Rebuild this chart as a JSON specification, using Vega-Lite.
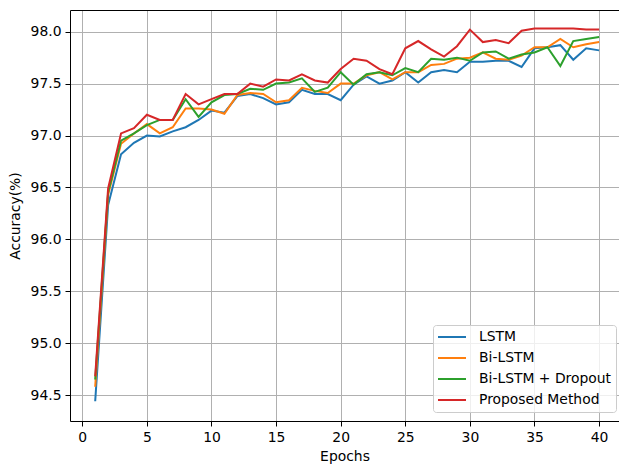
{
  "$schema": "https://vega.github.io/schema/vega-lite/v6.json",
  "autosize": {"type": "none"},
  "width": 549,
  "height": 411,
  "padding": {"left": 70, "top": 10, "right": 0, "bottom": 44},
  "background": "white",
  "config": {
    "font": "DejaVu Sans",
    "view": {"stroke": null},
    "axis": {
      "domainColor": "black",
      "domainWidth": 1,
      "tickColor": "black",
      "tickWidth": 1,
      "tickSize": 5,
      "labelPadding": 4,
      "labelFontSize": 13.9,
      "labelColor": "black",
      "titleFontSize": 13.9,
      "titleFontWeight": "normal",
      "titleColor": "black",
      "gridColor": "#b0b0b0",
      "gridWidth": 1,
      "labelFlush": false,
      "labelOverlap": false
    }
  },
  "data": {"values": [
    {"e":1,"m":"LSTM","a":94.44},{"e":2,"m":"LSTM","a":96.33},{"e":3,"m":"LSTM","a":96.82},{"e":4,"m":"LSTM","a":96.93},{"e":5,"m":"LSTM","a":97.0},{"e":6,"m":"LSTM","a":96.99},{"e":7,"m":"LSTM","a":97.04},{"e":8,"m":"LSTM","a":97.08},{"e":9,"m":"LSTM","a":97.15},{"e":10,"m":"LSTM","a":97.24},
    {"e":11,"m":"LSTM","a":97.22},{"e":12,"m":"LSTM","a":97.38},{"e":13,"m":"LSTM","a":97.4},{"e":14,"m":"LSTM","a":97.36},{"e":15,"m":"LSTM","a":97.3},{"e":16,"m":"LSTM","a":97.32},{"e":17,"m":"LSTM","a":97.44},{"e":18,"m":"LSTM","a":97.4},{"e":19,"m":"LSTM","a":97.4},{"e":20,"m":"LSTM","a":97.34},
    {"e":21,"m":"LSTM","a":97.49},{"e":22,"m":"LSTM","a":97.57},{"e":23,"m":"LSTM","a":97.5},{"e":24,"m":"LSTM","a":97.53},{"e":25,"m":"LSTM","a":97.61},{"e":26,"m":"LSTM","a":97.51},{"e":27,"m":"LSTM","a":97.61},{"e":28,"m":"LSTM","a":97.63},{"e":29,"m":"LSTM","a":97.61},{"e":30,"m":"LSTM","a":97.71},
    {"e":31,"m":"LSTM","a":97.71},{"e":32,"m":"LSTM","a":97.72},{"e":33,"m":"LSTM","a":97.72},{"e":34,"m":"LSTM","a":97.66},{"e":35,"m":"LSTM","a":97.84},{"e":36,"m":"LSTM","a":97.85},{"e":37,"m":"LSTM","a":97.87},{"e":38,"m":"LSTM","a":97.73},{"e":39,"m":"LSTM","a":97.84},{"e":40,"m":"LSTM","a":97.82},
    {"e":1,"m":"Bi-LSTM","a":94.58},{"e":2,"m":"Bi-LSTM","a":96.43},{"e":3,"m":"Bi-LSTM","a":96.92},{"e":4,"m":"Bi-LSTM","a":97.02},{"e":5,"m":"Bi-LSTM","a":97.11},{"e":6,"m":"Bi-LSTM","a":97.02},{"e":7,"m":"Bi-LSTM","a":97.08},{"e":8,"m":"Bi-LSTM","a":97.26},{"e":9,"m":"Bi-LSTM","a":97.26},{"e":10,"m":"Bi-LSTM","a":97.25},
    {"e":11,"m":"Bi-LSTM","a":97.21},{"e":12,"m":"Bi-LSTM","a":97.39},{"e":13,"m":"Bi-LSTM","a":97.41},{"e":14,"m":"Bi-LSTM","a":97.4},{"e":15,"m":"Bi-LSTM","a":97.32},{"e":16,"m":"Bi-LSTM","a":97.34},{"e":17,"m":"Bi-LSTM","a":97.46},{"e":18,"m":"Bi-LSTM","a":97.43},{"e":19,"m":"Bi-LSTM","a":97.41},{"e":20,"m":"Bi-LSTM","a":97.5},
    {"e":21,"m":"Bi-LSTM","a":97.5},{"e":22,"m":"Bi-LSTM","a":97.58},{"e":23,"m":"Bi-LSTM","a":97.61},{"e":24,"m":"Bi-LSTM","a":97.54},{"e":25,"m":"Bi-LSTM","a":97.61},{"e":26,"m":"Bi-LSTM","a":97.61},{"e":27,"m":"Bi-LSTM","a":97.68},{"e":28,"m":"Bi-LSTM","a":97.69},{"e":29,"m":"Bi-LSTM","a":97.74},{"e":30,"m":"Bi-LSTM","a":97.75},
    {"e":31,"m":"Bi-LSTM","a":97.8},{"e":32,"m":"Bi-LSTM","a":97.74},{"e":33,"m":"Bi-LSTM","a":97.73},{"e":34,"m":"Bi-LSTM","a":97.77},{"e":35,"m":"Bi-LSTM","a":97.85},{"e":36,"m":"Bi-LSTM","a":97.85},{"e":37,"m":"Bi-LSTM","a":97.93},{"e":38,"m":"Bi-LSTM","a":97.85},{"e":39,"m":"Bi-LSTM","a":97.88},{"e":40,"m":"Bi-LSTM","a":97.9},
    {"e":1,"m":"Bi-LSTM + Dropout","a":94.65},{"e":2,"m":"Bi-LSTM + Dropout","a":96.45},{"e":3,"m":"Bi-LSTM + Dropout","a":96.95},{"e":4,"m":"Bi-LSTM + Dropout","a":97.02},{"e":5,"m":"Bi-LSTM + Dropout","a":97.1},{"e":6,"m":"Bi-LSTM + Dropout","a":97.15},{"e":7,"m":"Bi-LSTM + Dropout","a":97.15},{"e":8,"m":"Bi-LSTM + Dropout","a":97.35},{"e":9,"m":"Bi-LSTM + Dropout","a":97.18},{"e":10,"m":"Bi-LSTM + Dropout","a":97.32},
    {"e":11,"m":"Bi-LSTM + Dropout","a":97.39},{"e":12,"m":"Bi-LSTM + Dropout","a":97.4},{"e":13,"m":"Bi-LSTM + Dropout","a":97.45},{"e":14,"m":"Bi-LSTM + Dropout","a":97.44},{"e":15,"m":"Bi-LSTM + Dropout","a":97.5},{"e":16,"m":"Bi-LSTM + Dropout","a":97.51},{"e":17,"m":"Bi-LSTM + Dropout","a":97.55},{"e":18,"m":"Bi-LSTM + Dropout","a":97.42},{"e":19,"m":"Bi-LSTM + Dropout","a":97.46},{"e":20,"m":"Bi-LSTM + Dropout","a":97.61},
    {"e":21,"m":"Bi-LSTM + Dropout","a":97.49},{"e":22,"m":"Bi-LSTM + Dropout","a":97.59},{"e":23,"m":"Bi-LSTM + Dropout","a":97.61},{"e":24,"m":"Bi-LSTM + Dropout","a":97.58},{"e":25,"m":"Bi-LSTM + Dropout","a":97.65},{"e":26,"m":"Bi-LSTM + Dropout","a":97.61},{"e":27,"m":"Bi-LSTM + Dropout","a":97.74},{"e":28,"m":"Bi-LSTM + Dropout","a":97.73},{"e":29,"m":"Bi-LSTM + Dropout","a":97.75},{"e":30,"m":"Bi-LSTM + Dropout","a":97.72},
    {"e":31,"m":"Bi-LSTM + Dropout","a":97.8},{"e":32,"m":"Bi-LSTM + Dropout","a":97.81},{"e":33,"m":"Bi-LSTM + Dropout","a":97.74},{"e":34,"m":"Bi-LSTM + Dropout","a":97.78},{"e":35,"m":"Bi-LSTM + Dropout","a":97.8},{"e":36,"m":"Bi-LSTM + Dropout","a":97.85},{"e":37,"m":"Bi-LSTM + Dropout","a":97.67},{"e":38,"m":"Bi-LSTM + Dropout","a":97.91},{"e":39,"m":"Bi-LSTM + Dropout","a":97.93},{"e":40,"m":"Bi-LSTM + Dropout","a":97.95},
    {"e":1,"m":"Proposed Method","a":94.68},{"e":2,"m":"Proposed Method","a":96.49},{"e":3,"m":"Proposed Method","a":97.02},{"e":4,"m":"Proposed Method","a":97.07},{"e":5,"m":"Proposed Method","a":97.2},{"e":6,"m":"Proposed Method","a":97.15},{"e":7,"m":"Proposed Method","a":97.15},{"e":8,"m":"Proposed Method","a":97.4},{"e":9,"m":"Proposed Method","a":97.3},{"e":10,"m":"Proposed Method","a":97.35},
    {"e":11,"m":"Proposed Method","a":97.4},{"e":12,"m":"Proposed Method","a":97.4},{"e":13,"m":"Proposed Method","a":97.5},{"e":14,"m":"Proposed Method","a":97.47},{"e":15,"m":"Proposed Method","a":97.54},{"e":16,"m":"Proposed Method","a":97.53},{"e":17,"m":"Proposed Method","a":97.59},{"e":18,"m":"Proposed Method","a":97.53},{"e":19,"m":"Proposed Method","a":97.51},{"e":20,"m":"Proposed Method","a":97.64},
    {"e":21,"m":"Proposed Method","a":97.74},{"e":22,"m":"Proposed Method","a":97.72},{"e":23,"m":"Proposed Method","a":97.64},{"e":24,"m":"Proposed Method","a":97.59},{"e":25,"m":"Proposed Method","a":97.84},{"e":26,"m":"Proposed Method","a":97.91},{"e":27,"m":"Proposed Method","a":97.83},{"e":28,"m":"Proposed Method","a":97.76},{"e":29,"m":"Proposed Method","a":97.86},{"e":30,"m":"Proposed Method","a":98.02},
    {"e":31,"m":"Proposed Method","a":97.9},{"e":32,"m":"Proposed Method","a":97.92},{"e":33,"m":"Proposed Method","a":97.89},{"e":34,"m":"Proposed Method","a":98.01},{"e":35,"m":"Proposed Method","a":98.03},{"e":36,"m":"Proposed Method","a":98.03},{"e":37,"m":"Proposed Method","a":98.03},{"e":38,"m":"Proposed Method","a":98.03},{"e":39,"m":"Proposed Method","a":98.02},{"e":40,"m":"Proposed Method","a":98.02}
  ]},
  "layer": [
    {
      "mark": {"type": "line", "strokeWidth": 2},
      "encoding": {
        "x": {
          "field": "e", "type": "quantitative",
          "scale": {"domain": [-0.95, 41.54], "nice": false, "zero": false},
          "axis": {"orient": "bottom", "title": "Epochs", "values": [0,5,10,15,20,25,30,35,40], "format": "d", "grid": true, "titlePadding": 6}
        },
        "y": {
          "field": "a", "type": "quantitative",
          "scale": {"domain": [94.25, 98.209], "nice": false, "zero": false},
          "axis": {"title": "Accuracy(%)", "values": [94.5,95.0,95.5,96.0,96.5,97.0,97.5,98.0], "format": ".1f", "grid": true, "titlePadding": 8}
        },
        "color": {
          "field": "m", "type": "nominal",
          "scale": {"domain": ["LSTM","Bi-LSTM","Bi-LSTM + Dropout","Proposed Method"], "range": ["#1f77b4","#ff7f0e","#2ca02c","#d62728"]},
          "legend": {
            "orient": "none", "legendX": 363, "legendY": 315, "title": null,
            "symbolType": "stroke", "symbolSize": 784, "symbolStrokeWidth": 2,
            "clipHeight": 16, "rowPadding": 5, "padding": 4, "labelOffset": 12,
            "labelFontSize": 13.9, "labelColor": "black",
            "fillColor": "rgba(255,255,255,0.8)", "strokeColor": "#cccccc", "cornerRadius": 3
          }
        }
      }
    },
    {
      "mark": {"type": "line", "opacity": 0},
      "encoding": {
        "x": {
          "field": "e", "type": "quantitative",
          "scale": {"domain": [-0.95, 41.54], "nice": false, "zero": false},
          "axis": {"orient": "top", "title": null, "labels": false, "ticks": false, "grid": false, "domain": true}
        },
        "y": {"field": "a", "type": "quantitative"}
      }
    }
  ],
  "resolve": {"axis": {"x": "independent"}}
}
